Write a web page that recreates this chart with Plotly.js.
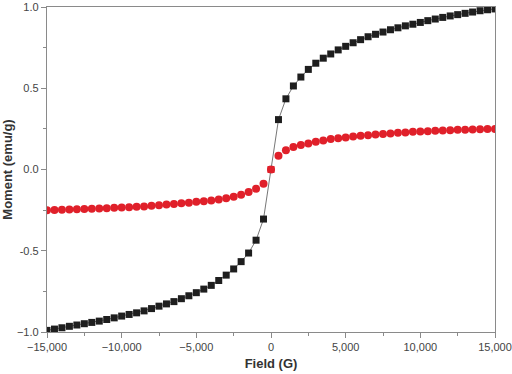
<!DOCTYPE html>
<html>
<head>
<meta charset="utf-8">
<script src="https://cdn.plot.ly/plotly-3.0.1.min.js"></script>
<style>html,body{margin:0;padding:0;background:#fff;}#chart{width:512px;height:374px;}</style>
</head>
<body>
<div id="chart"></div>
<script>
var fieldG = [-15000,-14500,-14000,-13500,-13000,-12500,-12000,-11500,-11000,-10500,
  -10000,-9500,-9000,-8500,-8000,-7500,-7000,-6500,-6000,-5500,
  -5000,-4500,-4000,-3500,-3000,-2500,-2000,-1500,-1000,-500,
  0,500,1000,1500,2000,2500,3000,3500,4000,4500,
  5000,5500,6000,6500,7000,7500,8000,8500,9000,9500,
  10000,10500,11000,11500,12000,12500,13000,13500,14000,14500,15000];

var momentBlack = [-0.990,-0.982,-0.974,-0.965,-0.957,-0.949,-0.941,-0.933,-0.923,-0.913,
  -0.902,-0.892,-0.882,-0.870,-0.856,-0.841,-0.827,-0.813,-0.795,-0.777,
  -0.758,-0.736,-0.713,-0.683,-0.650,-0.612,-0.567,-0.514,-0.435,-0.305,
  0.000,0.307,0.435,0.514,0.569,0.616,0.654,0.685,0.711,0.736,
  0.758,0.780,0.799,0.817,0.832,0.846,0.860,0.872,0.884,0.894,
  0.905,0.916,0.926,0.936,0.945,0.953,0.961,0.969,0.977,0.983,0.988];

var momentRed = [-0.250,-0.249,-0.248,-0.246,-0.245,-0.243,-0.242,-0.240,-0.238,-0.236,
  -0.234,-0.232,-0.229,-0.227,-0.223,-0.220,-0.216,-0.212,-0.208,-0.204,
  -0.199,-0.195,-0.190,-0.184,-0.177,-0.167,-0.155,-0.138,-0.118,-0.087,
  0.000,0.085,0.118,0.138,0.151,0.160,0.171,0.179,0.187,0.193,
  0.197,0.203,0.207,0.211,0.215,0.219,0.222,0.226,0.228,0.232,
  0.234,0.236,0.238,0.240,0.242,0.244,0.245,0.246,0.248,0.249,0.250];

var xTickVals = [-15000,-10000,-5000,0,5000,10000,15000];
var xTickText = ['\u221215,000','\u221210,000','\u22125,000','0','5,000','10,000','15,000'];
var yTickVals = [-1,-0.5,0,0.5,1];
var yTickText = ['\u22121.0','-0.5','0.0','0.5','1.0'];

var blackColors = fieldG.map(function(v){ return v === 0 ? '#e0202a' : '#1e1e1e'; });

var traces = [
  {
    x: fieldG, y: momentRed, type: 'scatter', mode: 'markers',
    marker: {symbol: 'circle', size: 8, color: '#e0202a'},
    hoverinfo: 'skip'
  },
  {
    x: fieldG, y: momentBlack, type: 'scatter', mode: 'lines+markers',
    line: {color: '#666', width: 0.9},
    marker: {symbol: 'square', size: 7, color: blackColors},
    hoverinfo: 'skip'
  }
];

var axisCommon = {
  showline: true, linecolor: '#8a8a8a', linewidth: 1.2, mirror: true,
  showgrid: false, zeroline: false,
  ticks: 'outside', ticklen: 5, tickwidth: 1, tickcolor: '#8a8a8a',
  ticklabeloverflow: 'allow',
  tickfont: {family: 'Liberation Sans, Arial, sans-serif', size: 11, color: '#444'}
};

var layout = {
  width: 512, height: 374,
  margin: {l: 47, r: 17, t: 7, b: 42},
  paper_bgcolor: '#fff', plot_bgcolor: '#fff',
  showlegend: false,
  xaxis: Object.assign({}, axisCommon, {
    range: [-15000, 15000],
    tickvals: xTickVals, ticktext: xTickText,
    minor: {dtick: 2500, tick0: 0, ticks: 'outside', ticklen: 3, tickcolor: '#8a8a8a'},
    title: {text: '<b>Field (G)</b>', standoff: 6,
      font: {family: 'Liberation Sans, Arial, sans-serif', size: 13, color: '#333'}}
  }),
  yaxis: Object.assign({}, axisCommon, {
    range: [-1, 1],
    tickvals: yTickVals, ticktext: yTickText,
    minor: {dtick: 0.25, tick0: 0, ticks: 'outside', ticklen: 3, tickcolor: '#8a8a8a'},
    title: {text: '<b>Moment (emu/g)</b>', standoff: 6,
      font: {family: 'Liberation Sans, Arial, sans-serif', size: 13, color: '#333'}}
  })
};

Plotly.newPlot('chart', traces, layout, {staticPlot: true, displayModeBar: false});
</script>
</body>
</html>
